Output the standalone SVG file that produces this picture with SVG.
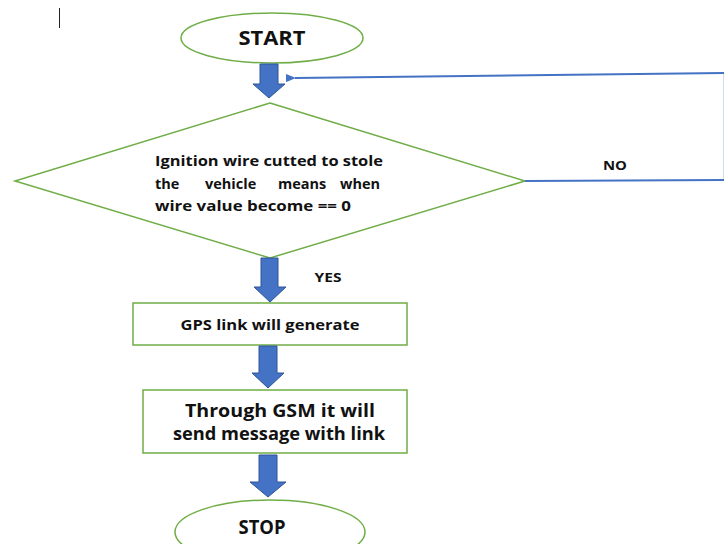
<svg xmlns="http://www.w3.org/2000/svg" width="724" height="544" viewBox="0 0 724 544">
<defs>
<style>
.shape{fill:#fff;stroke:#70AD47;stroke-width:1.5}
.blk{fill:#4472C4;stroke:#2F5597;stroke-width:1}
.ln{fill:none;stroke:#4472C4;stroke-width:2}
text{font-family:"Open Sans","Liberation Sans",sans-serif;font-weight:bold;fill:#111}
</style>
<marker id="ah" markerWidth="10" markerHeight="8" refX="1" refY="4" orient="auto" markerUnits="userSpaceOnUse">
<path d="M10,0 L0,4 L10,8 Z" fill="#4472C4"/>
</marker>
</defs>
<rect width="724" height="544" fill="#fff"/>
<line x1="59.5" y1="8" x2="59.5" y2="28" stroke="#222" stroke-width="1"/>
<g id="start">
<ellipse class="shape" cx="272" cy="38" rx="91" ry="25"/>
<text x="272" y="45" font-size="20" text-anchor="middle" textLength="67" lengthAdjust="spacingAndGlyphs">START</text>
</g>
<g id="decision">
<polygon class="shape" points="270,103 525,181 270,258 15,181"/>
<text x="155" y="166" font-size="14.5" textLength="228" lengthAdjust="spacingAndGlyphs">Ignition wire cutted to stole</text>
<text y="189" font-size="14.5"><tspan x="155">the</tspan><tspan x="205">vehicle</tspan><tspan x="278">means</tspan><tspan x="340">when</tspan></text>
<text x="155" y="211" font-size="14.5" textLength="196" lengthAdjust="spacingAndGlyphs">wire value become == 0</text>
</g>
<g id="gps">
<rect class="shape" x="133" y="303" width="274" height="42"/>
<text x="270" y="330" font-size="14" text-anchor="middle" textLength="179" lengthAdjust="spacingAndGlyphs">GPS link will generate</text>
</g>
<g id="gsm">
<rect class="shape" x="143" y="390" width="264" height="63"/>
<text x="280" y="417" font-size="18" text-anchor="middle" textLength="190" lengthAdjust="spacingAndGlyphs">Through GSM it will</text>
<text x="279" y="440" font-size="18" text-anchor="middle" textLength="212" lengthAdjust="spacingAndGlyphs">send message with link</text>
</g>
<g id="stop">
<ellipse class="shape" cx="270" cy="532" rx="95" ry="32"/>
<text x="262" y="534" font-size="20" text-anchor="middle" textLength="47" lengthAdjust="spacingAndGlyphs">STOP</text>
</g>
<g id="connectors">
<path class="blk" d="M260,64 H278 V84 H285 L269,98 L253,84 H260 Z"/>
<path class="blk" d="M261,258 H278 V287 H286 L270,302 L254,287 H261 Z"/>
<path class="blk" d="M259,346 H277 V373 H284 L268,388 L252,373 H259 Z"/>
<path class="blk" d="M259,455 H277 V482 H286 L268,497 L250,482 H259 Z"/>
<line class="ln" x1="525" y1="181" x2="724" y2="180"/>
<line x1="723.5" y1="180" x2="723.5" y2="73" stroke="#4472C4" stroke-width="1" opacity="0.25"/>
<line class="ln" x1="724" y1="73" x2="295" y2="78" marker-end="url(#ah)"/>
<text x="615" y="170" font-size="13" text-anchor="middle" textLength="24" lengthAdjust="spacingAndGlyphs">NO</text>
<text x="328" y="282" font-size="13" text-anchor="middle" textLength="27" lengthAdjust="spacingAndGlyphs">YES</text>
</g>
</svg>
